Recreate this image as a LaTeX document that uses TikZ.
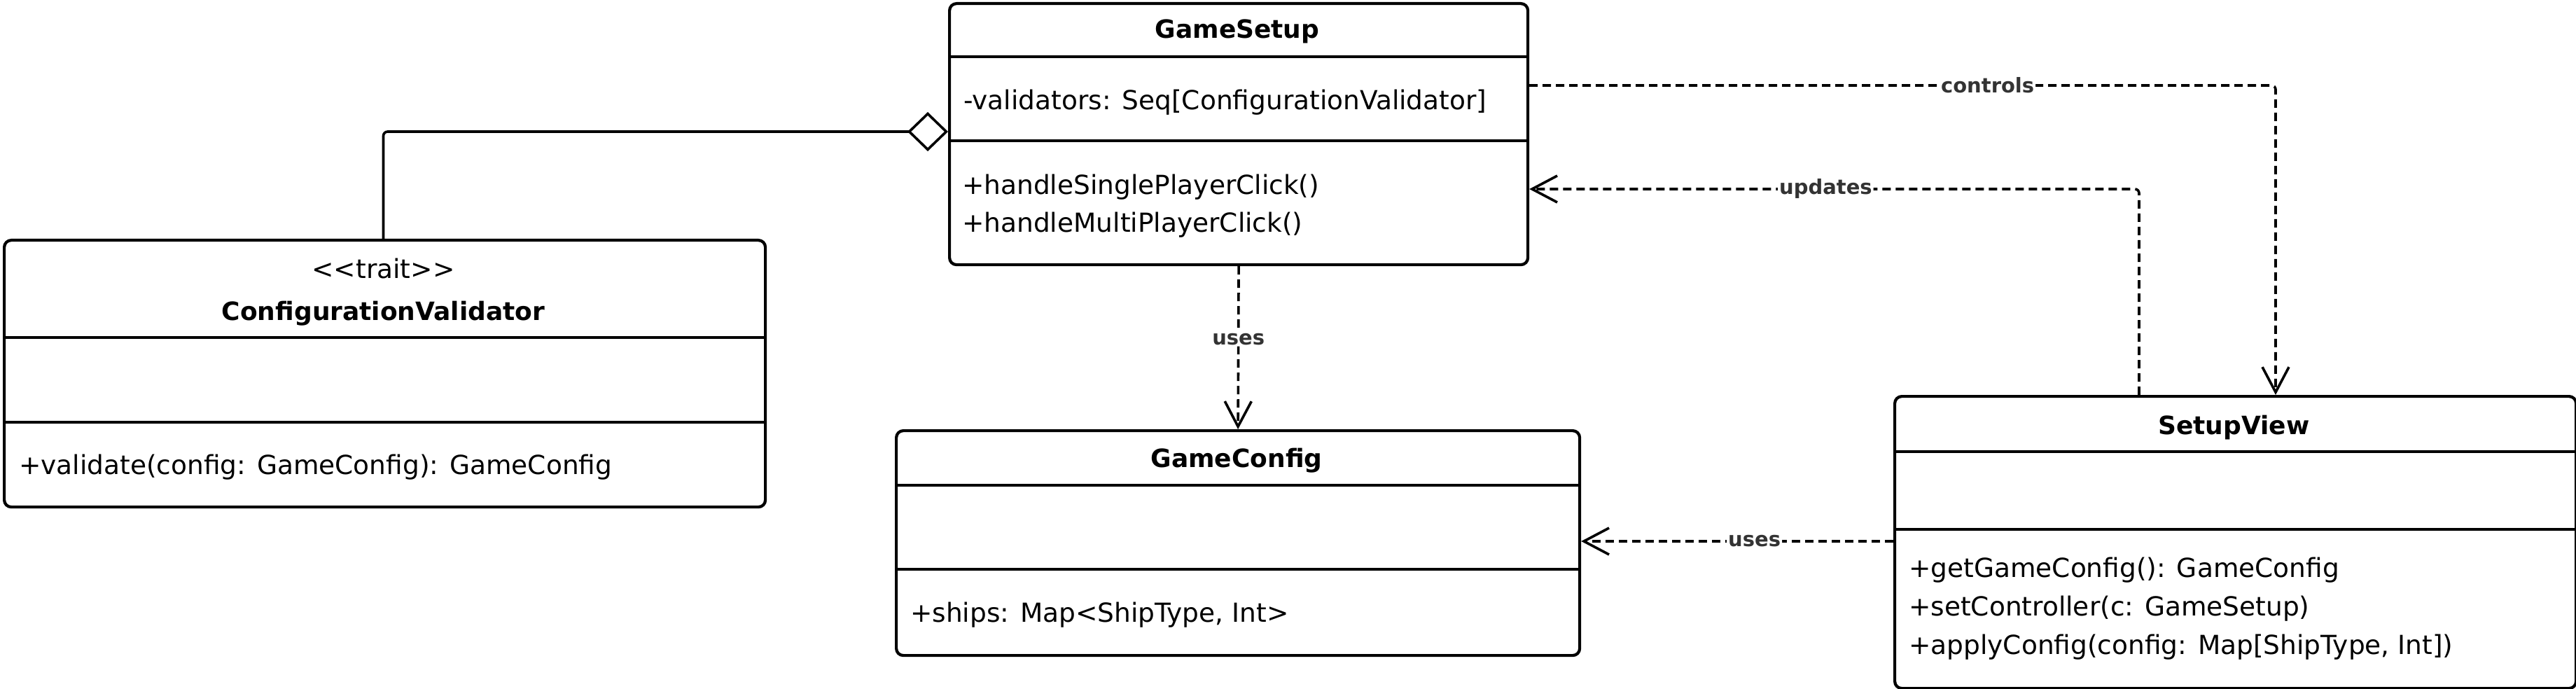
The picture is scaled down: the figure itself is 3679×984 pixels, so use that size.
\documentclass[tikz,border=0pt]{standalone}
\usepackage{fontspec}
\setmainfont{DejaVu Sans}
\usetikzlibrary{arrows.meta}
\definecolor{lblgray}{HTML}{333333}
\tikzset{
  classbox/.style={draw=black, line width=4.2pt, rounded corners=10pt, fill=white, inner sep=0pt, anchor=north west},
  divider/.style={line width=4.2pt},
  member/.style={anchor=base west, inner sep=0pt, font=\fontsize{37.5pt}{45pt}\selectfont},
  stereo/.style={anchor=base, inner sep=0pt, font=\fontsize{37.5pt}{45pt}\selectfont},
  cname/.style={anchor=base, inner sep=0pt, font=\bfseries\fontsize{36pt}{43pt}\selectfont},
  dep/.style={line width=3.6pt, dash pattern=on 12pt off 7pt, rounded corners=6pt, -{Straight Barb[length=36pt,width=38pt]}},
  deplbl/.style={fill=white, inner sep=2pt, text=lblgray, font=\bfseries\fontsize{29pt}{35pt}\selectfont},
  agg/.style={line width=3.6pt, rounded corners=6pt, -{Diamond[length=58pt,width=56pt,fill=white]}},
}
\begin{document}
\begin{tikzpicture}[x=1pt,y=-1pt]
\useasboundingbox (0,0) rectangle (3679,984);

% ---------- class boxes ----------
\node[classbox, minimum width=826pt, minimum height=373pt] (gs) at (1354,3) {};
\node[classbox, minimum width=1087pt, minimum height=381pt] (cv) at (4,341) {};
\node[classbox, minimum width=976pt, minimum height=321pt] (gc) at (1278,613) {};
\node[classbox, minimum width=973pt, minimum height=417pt] (sv) at (2704,564) {};

% dividers
\draw[divider] (1354,81) -- (2180,81);
\draw[divider] (1354,201) -- (2180,201);
\draw[divider] (4,482) -- (1091,482);
\draw[divider] (4,603) -- (1091,603);
\draw[divider] (1278,693) -- (2254,693);
\draw[divider] (1278,813) -- (2254,813);
\draw[divider] (2704,645) -- (3677,645);
\draw[divider] (2704,756) -- (3677,756);

% ---------- texts ----------
\node[cname] (gsT) at (1767,55) {GameSetup};
\node[member] (gsA) at (1376,157) {-validators: Seq[ConfigurationValidator]};
\node[member] (gsM1) at (1374,278) {+handleSinglePlayerClick()};
\node[member] (gsM2) at (1374,331) {+handleMultiPlayerClick()};

\node[stereo] (cvS) at (547.5,397) {<{}<trait>{}>};
\node[cname] (cvT) at (547.5,457) {ConfigurationValidator};
\node[member] (cvM) at (27,677) {+validate(config: GameConfig): GameConfig};

\node[cname] (gcT) at (1766,667) {GameConfig};
\node[member] (gcA) at (1300,888) {+ships: Map<ShipType, Int>};

\node[cname] (svT) at (3190.5,620) {SetupView};
\node[member] (svM1) at (2726,824) {+getGameConfig(): GameConfig};
\node[member] (svM2) at (2726,879) {+setController(c: GameSetup)};
\node[member] (svM3) at (2726,934) {+applyConfig(config: Map[ShipType, Int])};

% ---------- connector end points ----------
\path (cv.north west) ++(543.5,0) coordinate (cvTop);
\path (gs.north west) ++(0,185) coordinate (gsAgg);
\path (gs.north east) ++(0,119) coordinate (gsCtl);
\path (sv.north west) ++(546,0) coordinate (svCtl);
\path (sv.north west) ++(351,0) coordinate (svUpd);
\path (gs.north east) ++(0,267) coordinate (gsUpd);
\path (sv.north west) ++(0,209) coordinate (svUse);
\path (gc.north east) ++(0,160) coordinate (gcUse);

% ---------- connectors ----------
\draw[agg] (cvTop) |- (gsAgg);
\draw[dep] (gs.south) -- node[deplbl, pos=0.447] {uses} (gc.north);
\draw[dep] (gsCtl) -| node[deplbl, pos=0.307] {controls} (svCtl);
\draw[dep] (svUpd) |- node[deplbl, pos=0.757] {updates} (gsUpd);
\draw[dep] (svUse) -- node[deplbl, pos=0.445] {uses} (gcUse);
\end{tikzpicture}
\end{document}
